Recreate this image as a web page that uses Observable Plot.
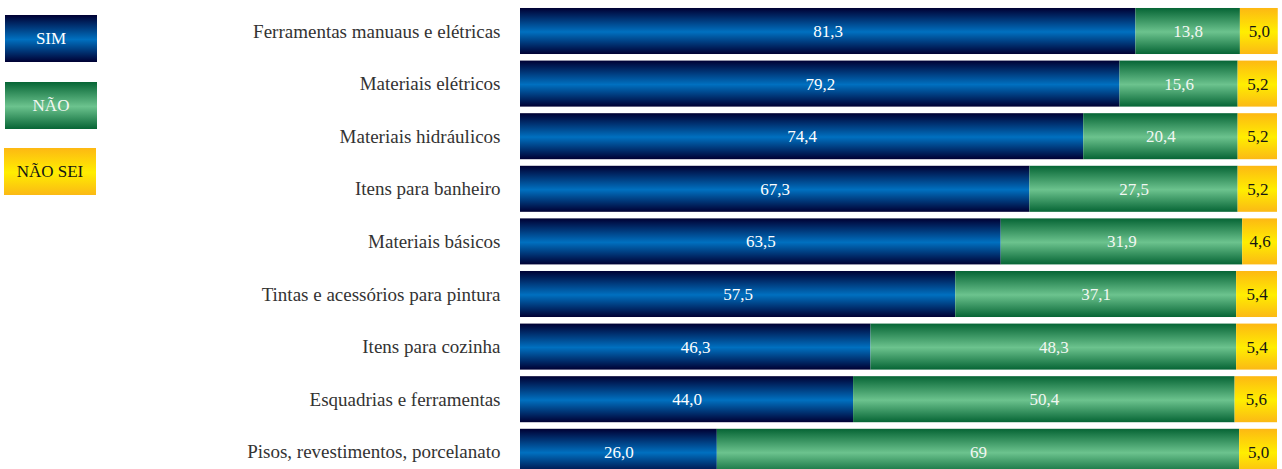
<!DOCTYPE html>
<html><head><meta charset="utf-8">
<script src="https://cdn.jsdelivr.net/npm/d3@7"></script>
<script src="https://cdn.jsdelivr.net/npm/@observablehq/plot@0.6"></script>
<style>
body{margin:0;background:#fff;overflow:hidden}
#wrap{position:relative;width:1282px;height:469px}
.leg{position:absolute;width:92px;height:47px;display:flex;align-items:center;justify-content:center;font-family:"Liberation Serif","Times New Roman","DejaVu Serif",serif;font-size:17px}
svg text{font-family:"Liberation Serif","Times New Roman","DejaVu Serif",serif !important}
</style></head><body><div id="wrap"></div>
<script>
const categories = [
  "Ferramentas manuaus e elétricas",
  "Materiais elétricos",
  "Materiais hidráulicos",
  "Itens para banheiro",
  "Materiais básicos",
  "Tintas e acessórios para pintura",
  "Itens para cozinha",
  "Esquadrias e ferramentas",
  "Pisos, revestimentos, porcelanato"
];
const series = ["SIM", "NÃO", "NÃO SEI"];
const sim    = ["81,3", "79,2", "74,4", "67,3", "63,5", "57,5", "46,3", "44,0", "26,0"];
const nao    = ["13,8", "15,6", "20,4", "27,5", "31,9", "37,1", "48,3", "50,4", "69"];
const naoSei = ["5,0", "5,2", "5,2", "5,2", "4,6", "5,4", "5,4", "5,6", "5,0"];

const gradIds = {"SIM": "gSim", "NÃO": "gNao", "NÃO SEI": "gNaoSei"};
const textColors = {"SIM": "#ffffff", "NÃO": "#f2f7f2", "NÃO SEI": "#151515"};
const gradStops = {
  gSim: ["#000033", "#0070c0", "#000033"],
  gNao: ["#066535", "#6cc38e", "#066535"],
  gNaoSei: ["#fdb813", "#ffee00", "#fbb915"]
};

const cols = [sim, nao, naoSei];
const data = [];
categories.forEach((c, i) => {
  series.forEach((s, j) => {
    const label = cols[j][i];
    data.push({cat: c, series: s, label, value: +label.replace(",", ".")});
  });
});

const svg = Plot.plot({
  width: 1282,
  height: 469,
  marginLeft: 520,
  marginRight: 5,
  marginTop: 0,
  marginBottom: 0,
  style: {fontFamily: "Liberation Serif, Times New Roman, DejaVu Serif, serif", fontSize: "19px", color: "#333", background: "#fff"},
  x: {domain: [0, 100], axis: null},
  y: {domain: categories, range: [4.7, 478.1], paddingInner: 0.125, paddingOuter: 0.0625, round: false, tickSize: 0, tickPadding: 20, label: null},
  color: {type: "identity"},
  marks: [
    Plot.barX(data, Plot.stackX({x: "value", y: "cat", z: "series", fill: d => `url(#${gradIds[d.series]})`, order: null})),
    Plot.text(data, Plot.stackX({x: "value", y: "cat", z: "series", text: "label", fill: d => textColors[d.series], fontSize: 17, order: null}))
  ]
});

const defs = d3.select(svg).insert("defs", ":first-child");
for (const [id, stops] of Object.entries(gradStops)) {
  const g = defs.append("linearGradient").attr("id", id).attr("x1", 0).attr("y1", 0).attr("x2", 0).attr("y2", 1);
  g.append("stop").attr("offset", "0%").attr("stop-color", stops[0]);
  g.append("stop").attr("offset", "52%").attr("stop-color", stops[1]);
  g.append("stop").attr("offset", "100%").attr("stop-color", stops[2]);
}

const wrap = document.getElementById("wrap");
wrap.appendChild(svg);

const legendPos = [[5, 15], [5, 82], [4, 148]];
series.forEach((s, j) => {
  const st = gradStops[gradIds[s]];
  const d = document.createElement("div");
  d.className = "leg";
  d.style.left = legendPos[j][0] + "px";
  d.style.top = legendPos[j][1] + "px";
  d.style.background = `linear-gradient(to bottom, ${st[0]} 0%, ${st[1]} 52%, ${st[2]} 100%)`;
  d.style.color = textColors[s];
  d.textContent = s;
  wrap.appendChild(d);
});
</script>
</body></html>
